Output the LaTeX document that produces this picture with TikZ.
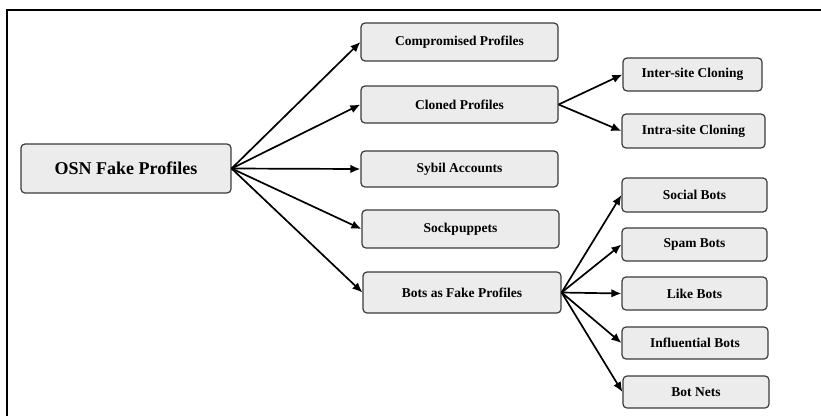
\documentclass[tikz,border=0pt]{standalone}
\usepackage{fontspec}
\setmainfont{Liberation Serif}
\usetikzlibrary{arrows.meta}
\definecolor{boxfill}{HTML}{ECECEC}
\definecolor{boxline}{HTML}{3A3A3A}
\tikzset{
  box/.style={draw=boxline, fill=boxfill, rounded corners=4pt, line width=1.2pt,
    inner sep=0pt, font=\fontsize{13.5}{15}\selectfont\bfseries},
  conn/.style={line width=1.7pt, -{Latex[length=10pt,width=8.5pt]}}
}
\begin{document}
\begin{tikzpicture}[x=1pt,y=-1pt]
\useasboundingbox (0,0) rectangle (821,416);
\draw[line width=2pt] (7,416) -- (7,10) -- (821,10);
\node[box, minimum width=210pt, minimum height=49pt, font=\fontsize{18}{20}\selectfont\bfseries] (osn) at (126,168.5) {OSN Fake Profiles};
\node[box, minimum width=197pt, minimum height=38pt] (comp) at (459.5,42) {Compromised Profiles};
\node[box, minimum width=197pt, minimum height=37pt] (clon) at (459.5,104.5) {Cloned Profiles};
\node[box, minimum width=197pt, minimum height=36pt] (syb) at (459.5,169) {Sybil Accounts};
\node[box, minimum width=197pt, minimum height=38pt] (sock) at (460.5,229) {Sockpuppets};
\node[box, minimum width=198pt, minimum height=41pt] (bots) at (462,292.5) {Bots as Fake Profiles};
\node[box, minimum width=139pt, minimum height=33pt] (inter) at (692.5,74.5) {Inter-site Cloning};
\node[box, minimum width=143pt, minimum height=34pt] (intra) at (693.5,131) {Intra-site Cloning};
\node[box, minimum width=145pt, minimum height=34pt] (social) at (694.5,195) {Social Bots};
\node[box, minimum width=145pt, minimum height=33pt] (spam) at (694.5,244.5) {Spam Bots};
\node[box, minimum width=145pt, minimum height=33pt] (like) at (694.5,293.5) {Like Bots};
\node[box, minimum width=146pt, minimum height=32pt] (infl) at (695,343) {Influential Bots};
\node[box, minimum width=146pt, minimum height=32pt] (nets) at (696,392) {Bot Nets};
\foreach \t in {comp,clon,syb,sock,bots} \draw[conn] (osn.east) -- (\t.west);
\foreach \t in {inter,intra} \draw[conn] (clon.east) -- (\t.west);
\foreach \t in {social,spam,like,infl,nets} \draw[conn] (bots.east) -- (\t.west);
\end{tikzpicture}
\end{document}
